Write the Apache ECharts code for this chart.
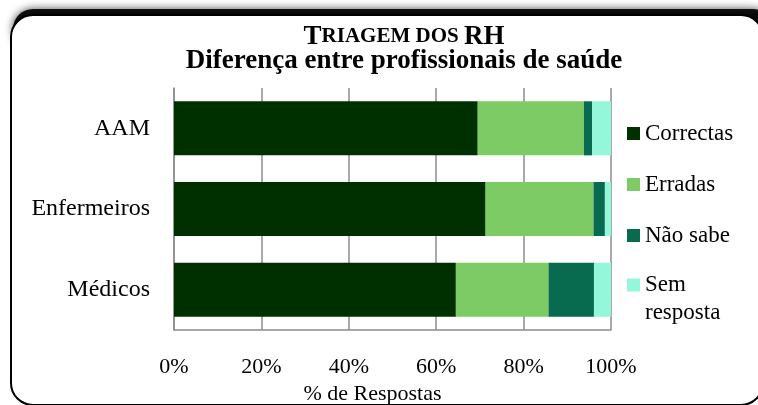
<!DOCTYPE html>
<html>
<head>
<meta charset="utf-8">
<script src="https://cdn.jsdelivr.net/npm/echarts@6/dist/echarts.min.js"></script>
<style>
    html, body { margin: 0; padding: 0; background: #fff; }
    #chart { width: 758px; height: 405px; }
</style>
</head>
<body>
<div id="chart"></div>
<script>
    // dados (% de respostas)
    var categorias = ['AAM', 'Enfermeiros', 'Médicos'];
    var correctas = [69.5, 71.3, 64.5];
    var erradas = [24.3, 24.7, 21.2];
    var naoSabe = [1.9, 2.6, 10.4];
    var semResposta = [4.3, 1.4, 3.9];
    var ticksX = [0, 20, 40, 60, 80, 100];

    var cores = ['#002f00', '#7dcb64', '#086a4f', '#95f7da'];
    var fonte = '"Liberation Serif", "Times New Roman", serif';

    var chart = echarts.init(document.getElementById('chart'), null, {renderer: 'canvas'});

    function serie(nome, dados, cor) {
        return {
            name: nome,
            type: 'bar',
            stack: 'total',
            data: dados,
            barCategoryGap: '33%',
            itemStyle: {color: cor},
            emphasis: {disabled: true}
        };
    }

    var option = {
        animation: false,
        backgroundColor: '#fff',
        graphic: [{
            // sombra só no topo da moldura
            type: 'rect',
            z: -20,
            silent: true,
            shape: {x: 13, y: 9, width: 760, height: 40, r: 22},
            style: {
                fill: 'rgba(0,0,0,0.9)',
                shadowBlur: 8,
                shadowColor: 'rgba(0,0,0,0.8)'
            }
        }, {
            // moldura arredondada
            type: 'rect',
            z: -10,
            silent: true,
            shape: {x: 11, y: 15, width: 752, height: 390, r: 22},
            style: {fill: '#fff', stroke: '#000', lineWidth: 2}
        }],
        title: {
            left: 404,
            top: 25,
            padding: 0,
            textAlign: 'center',
            text: '{b|T}{s|RIAGEM DOS }{b|RH}\n{l|Diferença entre profissionais de saúde}',
            textStyle: {
                rich: {
                    b: {fontFamily: fonte, fontWeight: 'bold', fontSize: 27, color: '#000', lineHeight: 24},
                    s: {fontFamily: fonte, fontWeight: 'bold', fontSize: 21, color: '#000', lineHeight: 24},
                    l: {fontFamily: fonte, fontWeight: 'bold', fontSize: 27, color: '#000', lineHeight: 24}
                }
            }
        },
        legend: [{
            orient: 'vertical',
            left: 627,
            top: 121,
            padding: 0,
            itemWidth: 13,
            itemHeight: 13,
            itemGap: 26,
            icon: 'rect',
            selectedMode: false,
            data: ['Correctas', 'Erradas', 'Não sabe'],
            textStyle: {fontFamily: fonte, fontSize: 23, color: '#000', lineHeight: 25}
        }, {
            orient: 'vertical',
            left: 627,
            top: 243,
            padding: 0,
            itemWidth: 13,
            itemHeight: 13,
            icon: 'rect',
            selectedMode: false,
            data: ['Sem resposta'],
            formatter: function () { return '\nSem\nresposta'; },
            textStyle: {fontFamily: fonte, fontSize: 23, color: '#000', lineHeight: 28}
        }],
        grid: {left: 174, right: 147, top: 88, bottom: 75, containLabel: false, outerBoundsMode: 'none'},
        xAxis: {
            type: 'value',
            min: ticksX[0],
            max: ticksX[ticksX.length - 1],
            interval: 20,
            name: '% de Respostas',
            nameLocation: 'middle',
            nameGap: 48,
            nameTextStyle: {fontFamily: fonte, fontSize: 22, color: '#000', padding: [0, 40, 0, 0]},
            axisLine: {show: true, lineStyle: {color: '#8c8c8c', width: 1.5}},
            axisTick: {show: false},
            splitLine: {show: true, lineStyle: {color: '#8c8c8c', width: 1.5}},
            axisLabel: {
                margin: 26,
                fontFamily: fonte,
                fontSize: 22,
                color: '#000',
                formatter: function (v) { return v + '%'; }
            }
        },
        yAxis: {
            type: 'category',
            inverse: true,
            data: categorias,
            axisLine: {show: true, lineStyle: {color: '#8c8c8c', width: 1.5}},
            axisTick: {show: false},
            axisLabel: {margin: 24, fontFamily: fonte, fontSize: 24, color: '#000', padding: [10, 0, 0, 0]}
        },
        series: [
            serie('Correctas', correctas, cores[0]),
            serie('Erradas', erradas, cores[1]),
            serie('Não sabe', naoSabe, cores[2]),
            serie('Sem resposta', semResposta, cores[3])
        ]
    };

    chart.setOption(option);
</script>
</body>
</html>
